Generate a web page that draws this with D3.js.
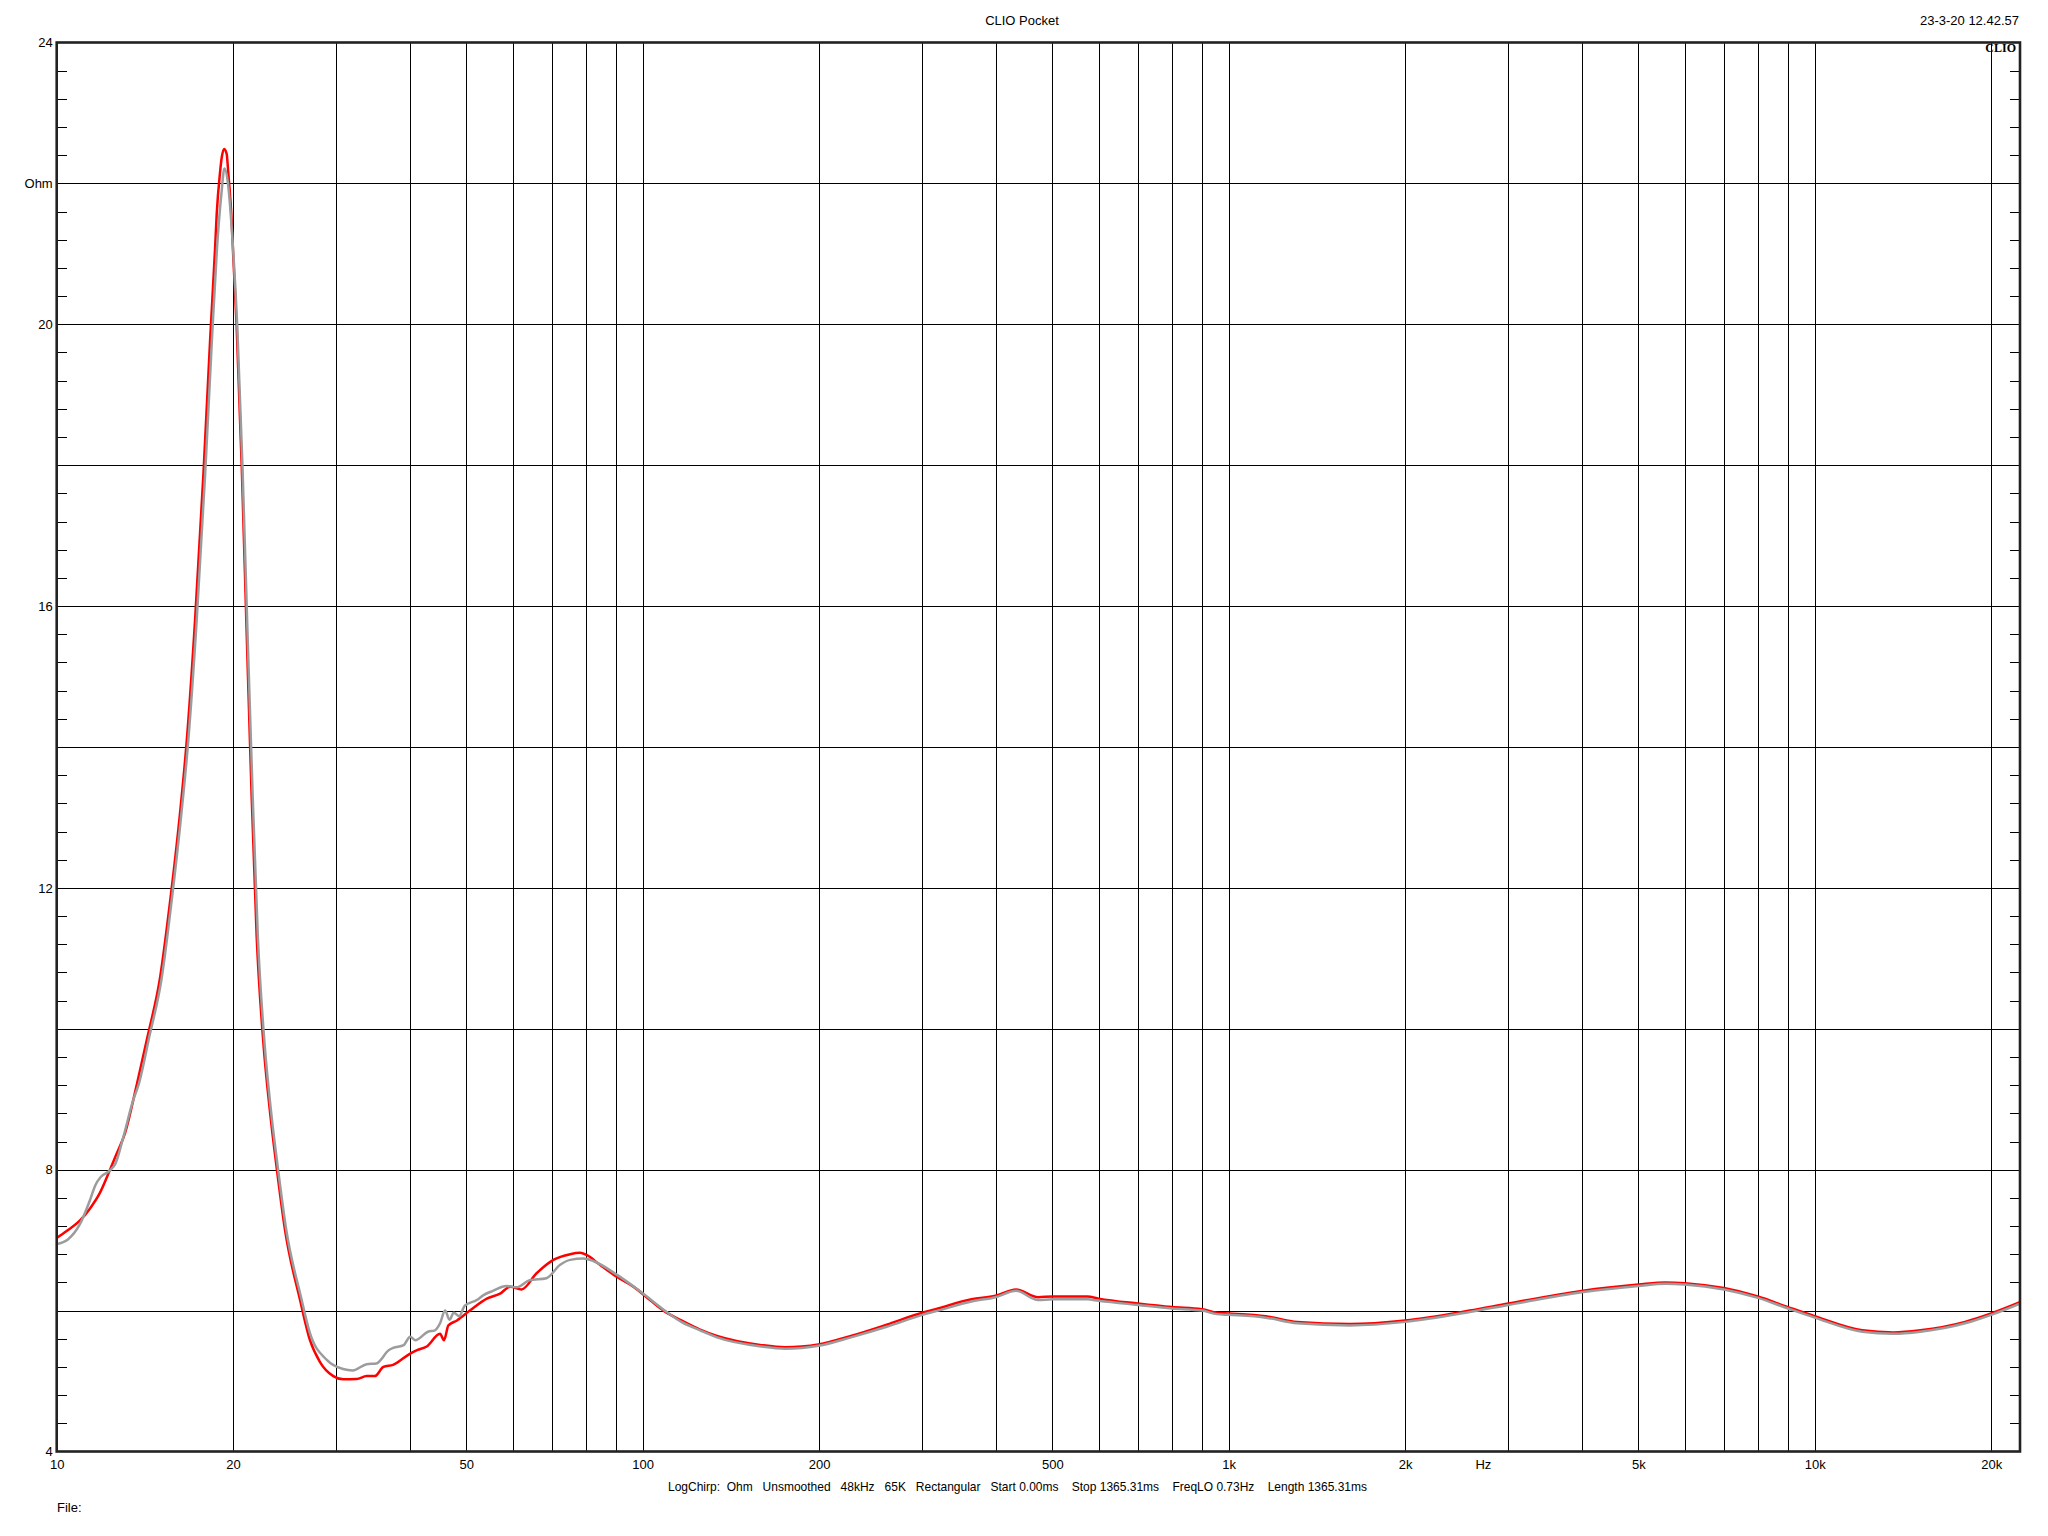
<!DOCTYPE html>
<html>
<head>
<meta charset="utf-8">
<script src="https://cdn.jsdelivr.net/npm/d3@7"></script>
<style>
  html, body { margin: 0; padding: 0; background: #fff; }
  svg { display: block; }
  text { font-family: "Liberation Sans", Arial, sans-serif; fill: #000; }
</style>
</head>
<body>
<svg id="chart" width="2048" height="1536"></svg>
<script>
// ---------------- data ----------------
const title = "CLIO Pocket";
const dateStamp = "23-3-20 12.42.57";
const brand = "CLIO";
const yLabel = "Ohm";
const xUnit = "Hz";
const footerInfo = "LogChirp:  Ohm   Unsmoothed   48kHz   65K   Rectangular   Start 0.00ms    Stop 1365.31ms    FreqLO 0.73Hz    Length 1365.31ms";
const fileLabel = "File:";

const xTickValues = [10, 20, 50, 100, 200, 500, 1000, 2000, 5000, 10000, 20000];
const xTickLabels = ["10", "20", "50", "100", "200", "500", "1k", "2k", "5k", "10k", "20k"];
const xGridValues = [20, 30, 40, 50, 60, 70, 80, 90, 100, 200, 300, 400, 500, 600, 700, 800, 900,
                     1000, 2000, 3000, 4000, 5000, 6000, 7000, 8000, 9000, 10000, 20000];
const yTickValues = [4, 8, 12, 16, 20, 22, 24];
const yTickLabels = ["4", "8", "12", "16", "20", "Ohm", "24"];
const yGridValues = [6, 8, 10, 12, 14, 16, 18, 20, 22];
const hzLabelFreq = 2720;

// red trace (frequency Hz, impedance Ohm)
const redFreq = [10, 10.4, 10.96, 11.4, 11.85, 12.33, 12.66, 13.08, 13.7, 14.3, 15.0, 15.61, 16.23, 16.67, 17.22, 17.8, 18.27, 18.63, 18.75, 19.0, 19.12, 19.3, 19.5, 19.62, 19.89, 20.01, 20.28, 20.69, 21.1, 21.51, 21.94, 22.52, 23.12, 23.74, 24.53,
  26.02, 27.05, 28.14, 29.65, 30.83, 32.5, 33.8, 34.9, 36.1, 37.5, 40.1, 41.2, 42.8, 45.1, 45.8, 46.6, 48.2, 50.7, 54.2, 57.1, 59.4, 62.1, 65.9, 70.4, 75.2, 78.2, 80.2, 84.5, 90.3, 96.4,
  102.9, 108.5, 116.4, 125.3, 133.9, 159.6, 175, 186.8, 199.4, 226.6, 260.8, 300, 316, 364, 400, 433.6, 473, 500, 574, 600, 700, 800, 900, 955, 1000, 1157, 1309, 1609,
  2000, 2576, 3000, 4000, 5000, 5570, 6000, 7000, 8000, 9000, 10000, 12056, 13630, 15140, 18050, 20000, 22400];
const redOhm = [7.03, 7.13, 7.28, 7.45, 7.67, 8.0, 8.23, 8.52, 9.21, 9.9, 10.71, 11.80, 13.05, 14.09, 15.79, 17.88, 19.77, 21.07, 21.56, 22.16, 22.36, 22.49, 22.42, 22.16, 21.46, 20.97, 19.97, 17.98, 15.59, 13.30, 11.31, 9.81, 8.82, 8.02, 7.14,
  6.15, 5.58, 5.27, 5.07, 5.025, 5.03, 5.07, 5.07, 5.20, 5.23, 5.39, 5.44, 5.49, 5.67, 5.58, 5.79, 5.86, 6.0, 6.17, 6.24, 6.34, 6.30, 6.53, 6.72, 6.80, 6.82, 6.79, 6.65, 6.48, 6.34,
  6.15, 6.0, 5.86, 5.73, 5.64, 5.51, 5.48, 5.49, 5.52, 5.64, 5.80, 5.97, 6.02, 6.16, 6.21, 6.30, 6.19, 6.20, 6.20, 6.17, 6.10, 6.05, 6.02, 5.97, 5.96, 5.92, 5.84, 5.81,
  5.86, 6.0, 6.10, 6.28, 6.37, 6.40, 6.39, 6.32, 6.20, 6.05, 5.92, 5.72, 5.69, 5.72, 5.84, 5.96, 6.12];

// gray trace (frequency Hz, impedance Ohm)
const grayFreq = [10, 10.45, 10.96, 11.4, 11.64, 11.9, 12.33, 12.6, 13.0, 13.51, 13.8, 14.4, 15.1, 15.7, 16.32, 16.77, 17.33, 17.92, 18.4, 18.77, 19.1, 19.33, 19.6, 19.95, 20.33, 20.75, 21.17, 21.6, 22.04, 22.62, 23.22, 23.85, 24.65,
  26.1, 27.05, 28.9, 30.8, 32.0, 33.8, 35.1, 36.9, 37.5, 39.1, 40.1, 40.9, 43.0, 44.2, 45.1, 46.0, 46.8, 47.6, 48.6, 49.7, 52.1, 53.5, 55.5, 58.5, 60.9, 64.1, 68.5, 72.3, 75.2, 79.2, 82.5, 90.3, 99.1,
  109.9, 116.4, 125.3, 133.9, 159.6, 175, 186.8, 199.4, 226.6, 260.8, 300, 316, 364, 400, 433.6, 473, 500, 574, 600, 700, 800, 900, 955, 1000, 1157, 1309, 1609,
  2000, 2576, 3000, 4000, 5000, 5570, 6000, 7000, 8000, 9000, 10000, 12056, 13630, 15140, 18050, 20000, 22400];
const grayOhm = [6.945, 7.01, 7.23, 7.57, 7.78, 7.90, 7.99, 8.09, 8.47, 8.99, 9.21, 9.9, 10.71, 11.80, 13.05, 14.09, 15.79, 17.88, 19.77, 21.07, 21.85, 22.21, 22.0, 21.2, 19.97, 17.98, 15.59, 13.30, 11.31, 9.81, 8.82, 8.02, 7.14,
  6.2, 5.68, 5.30, 5.17, 5.15, 5.24, 5.25, 5.44, 5.47, 5.51, 5.63, 5.58, 5.70, 5.72, 5.82, 6.0, 5.87, 5.97, 5.92, 6.07, 6.15, 6.22, 6.28, 6.35, 6.33, 6.43, 6.46, 6.65, 6.72, 6.74, 6.70, 6.51, 6.27,
  5.98, 5.84, 5.72, 5.62, 5.49, 5.46, 5.47, 5.50, 5.62, 5.77, 5.94, 5.99, 6.13, 6.19, 6.28, 6.15, 6.16, 6.16, 6.14, 6.08, 6.03, 6.0, 5.95, 5.94, 5.90, 5.82, 5.79,
  5.84, 5.98, 6.08, 6.26, 6.35, 6.38, 6.37, 6.30, 6.18, 6.03, 5.90, 5.70, 5.67, 5.70, 5.82, 5.94, 6.10];

// ---------------- layout ----------------
const L = 56.7, R = 2020, T = 42.5, B = 1451.5;
const svg = d3.select("#chart");

const x = d3.scaleLog().domain([10, 22400]).range([L, R]);
const y = d3.scaleLinear().domain([4, 24]).range([B, T]);

const styleLines = g => g.selectAll("line")
  .attr("stroke", "#000").attr("stroke-width", 1).attr("shape-rendering", "crispEdges");

// vertical grid
svg.append("g")
  .attr("transform", `translate(0,${B})`)
  .call(d3.axisBottom(x).tickValues(xGridValues).tickSize(-(B - T)).tickFormat(""))
  .call(g => g.select(".domain").remove())
  .call(styleLines);

// horizontal grid
svg.append("g")
  .attr("transform", `translate(${L},0)`)
  .call(d3.axisLeft(y).tickValues(yGridValues).tickSize(-(R - L)).tickFormat(""))
  .call(g => g.select(".domain").remove())
  .call(styleLines);

// minor ticks (every 0.4 Ohm, excluding the 2 Ohm grid)
const minorVals = d3.range(4, 24.001, 0.4).map(v => +v.toFixed(1)).filter(v => Math.abs(v / 2 - Math.round(v / 2)) > 0.01);
svg.append("g")
  .attr("transform", `translate(${L},0)`)
  .call(d3.axisLeft(y).tickValues(minorVals).tickSize(-10).tickFormat(""))
  .call(g => g.select(".domain").remove())
  .call(styleLines);
svg.append("g")
  .attr("transform", `translate(${R},0)`)
  .call(d3.axisRight(y).tickValues(minorVals).tickSize(-10).tickFormat(""))
  .call(g => g.select(".domain").remove())
  .call(styleLines);

// traces
const line = d3.line().x(d => x(d[0])).y(d => y(d[1])).curve(d3.curveMonotoneX);
const redData = redFreq.map((f, i) => [f, redOhm[i]]);
const grayData = grayFreq.map((f, i) => [f, grayOhm[i]]);

svg.append("clipPath").attr("id", "plotclip").append("rect")
  .attr("x", L).attr("y", T).attr("width", R - L).attr("height", B - T);

const traces = svg.append("g").attr("clip-path", "url(#plotclip)");
traces.append("path").datum(redData)
  .attr("d", line).attr("fill", "none").attr("stroke", "#ff0000").attr("stroke-width", 2.5)
  .attr("stroke-linejoin", "round");
traces.append("path").datum(grayData)
  .attr("d", line).attr("fill", "none").attr("stroke", "#9c9c9c").attr("stroke-width", 2.5)
  .attr("stroke-linejoin", "round");

// border
svg.append("rect")
  .attr("x", L).attr("y", T).attr("width", R - L).attr("height", B - T)
  .attr("fill", "none").attr("stroke", "#222").attr("stroke-width", 2.6);

// y labels
svg.append("g")
  .attr("transform", `translate(${L - 4},0)`)
  .call(d3.axisLeft(y).tickValues(yTickValues).tickSize(0).tickPadding(0)
    .tickFormat(d => yTickLabels[yTickValues.indexOf(d)]))
  .call(g => g.select(".domain").remove())
  .call(g => g.selectAll("text").attr("font-size", 13).attr("font-family", "Liberation Sans, Arial, sans-serif").attr("fill", "#000"));

// x labels
svg.append("g")
  .attr("transform", `translate(0,${B + 8})`)
  .call(d3.axisBottom(x).tickValues(xTickValues).tickSize(0).tickPadding(0)
    .tickFormat(d => xTickLabels[xTickValues.indexOf(d)]))
  .call(g => g.select(".domain").remove())
  .call(g => g.selectAll("text").attr("font-size", 13).attr("font-family", "Liberation Sans, Arial, sans-serif").attr("fill", "#000"));

svg.append("text").attr("x", x(hzLabelFreq)).attr("y", B + 8).attr("dy", "0.71em")
  .attr("text-anchor", "middle").attr("font-size", 13).text(xUnit);

// titles and annotations
svg.append("text").attr("x", 1022).attr("y", 25).attr("text-anchor", "middle")
  .attr("font-size", 13).text(title);
svg.append("text").attr("x", 2019).attr("y", 25).attr("text-anchor", "end")
  .attr("font-size", 13).text(dateStamp);
svg.append("text").attr("x", 2016).attr("y", 52).attr("text-anchor", "end")
  .attr("font-size", 12).attr("font-weight", "bold")
  .style("font-family", "'Liberation Serif', 'Times New Roman', serif").text(brand);

svg.append("text").attr("x", 668).attr("y", 1491)
  .attr("font-size", 13).style("white-space", "pre")
  .attr("textLength", 699).attr("lengthAdjust", "spacingAndGlyphs")
  .text(footerInfo);
svg.append("text").attr("x", 57).attr("y", 1512).attr("font-size", 13).text(fileLabel);
</script>
</body>
</html>
